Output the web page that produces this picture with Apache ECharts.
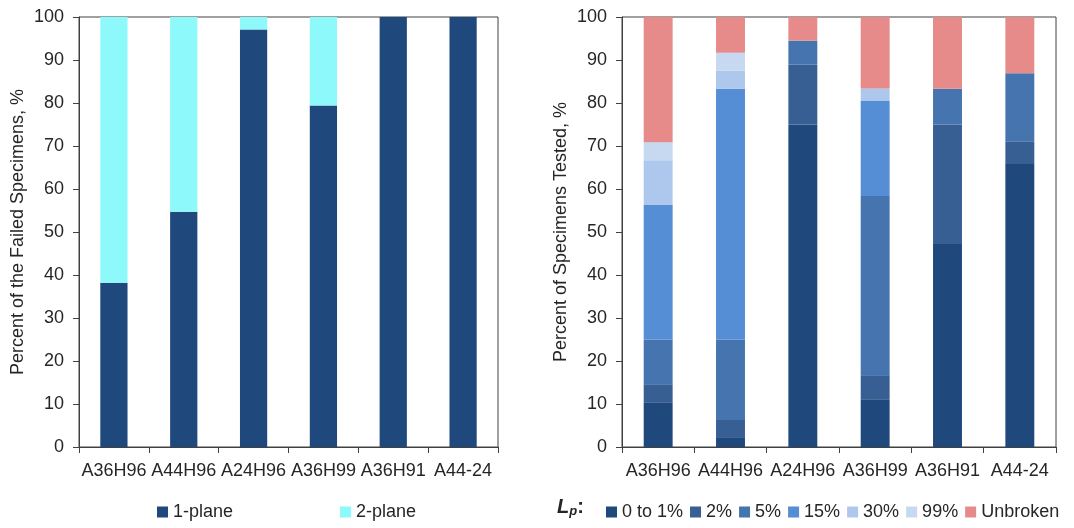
<!DOCTYPE html>
<html>
<head>
<meta charset="utf-8">
<script src="https://cdn.jsdelivr.net/npm/echarts@6/dist/echarts.min.js"></script>
<style>
html,body{margin:0;padding:0;background:#fff;}
#chart{width:1074px;height:528px;}
</style>
</head>
<body>
<div id="chart"></div>
<script>
var categories = ['A36H96', 'A44H96', 'A24H96', 'A36H99', 'A36H91', 'A44-24'];
var yTicks = [0, 10, 20, 30, 40, 50, 60, 70, 80, 90, 100];

// Left chart: failure plane
var onePlane = [38.2, 54.7, 97.1, 79.4, 100, 100];
var twoPlane = [61.8, 45.3, 2.9, 20.6, 0, 0];

// Right chart: Lp distribution
var lp0to1 = [10.4, 2.1, 75.0, 11.1, 47.2, 65.8];
var lp2 = [4.2, 4.2, 13.9, 5.6, 27.8, 5.3];
var lp5 = [10.4, 18.7, 5.6, 41.7, 8.3, 15.8];
var lp15 = [31.3, 58.3, 0, 22.2, 0, 0];
var lp30 = [10.4, 4.2, 0, 2.8, 0, 0];
var lp99 = [4.2, 4.2, 0, 0, 0, 0];
var unbroken = [29.1, 8.3, 5.5, 16.6, 16.7, 13.1];

var leftNames = ['1-plane', '2-plane'];
var rightNames = ['0 to 1%', '2%', '5%', '15%', '30%', '99%', 'Unbroken'];

var FONT = 'Liberation Sans, Arial, sans-serif';
var TXT = '#262626';
var AX = '#404040';

function xAxis(gi) {
  return {
    type: 'category', gridIndex: gi, data: categories,
    axisLine: {lineStyle: {color: AX, width: 1}},
    axisTick: {show: true, length: 6, lineStyle: {color: AX}},
    axisLabel: {interval: 0, color: TXT, fontFamily: FONT, fontSize: 18, margin: 15}
  };
}
function yAxis(gi, name, gap) {
  return {
    type: 'value', gridIndex: gi, min: 0, max: 100, interval: 10,
    name: name, nameLocation: 'middle', nameGap: gap,
    nameTextStyle: {color: TXT, fontFamily: FONT, fontSize: 18},
    axisLine: {show: true, lineStyle: {color: AX, width: 1}},
    axisTick: {show: true, length: 6, lineStyle: {color: AX}},
    axisLabel: {color: TXT, fontFamily: FONT, fontSize: 18, margin: 15},
    splitLine: {show: false}
  };
}
function bar(name, data, color, gi, w) {
  return {
    name: name, type: 'bar', stack: 's' + gi, data: data,
    xAxisIndex: gi, yAxisIndex: gi, barWidth: w,
    itemStyle: {color: color}, emphasis: {disabled: true}
  };
}

var leftColors = ['#1f497d', '#8ef9fa'];
var rightColors = ['#1f497d', '#375f93', '#4674ae', '#558ed5', '#adc8ec', '#c6d9f1', '#e68a8a'];
var rightData = [lp0to1, lp2, lp5, lp15, lp30, lp99, unbroken];

var series = [
  bar(leftNames[0], onePlane, leftColors[0], 0, '39%'),
  bar(leftNames[1], twoPlane, leftColors[1], 0, '39%')
];
for (var i = 0; i < rightNames.length; i++) {
  series.push(bar(rightNames[i], rightData[i], rightColors[i], 1, '40%'));
}

var chart = echarts.init(document.getElementById('chart'), null, {renderer: 'canvas'});
chart.setOption({
  animation: false,
  backgroundColor: '#fff',
  grid: [
    {left: 79, right: 576, top: 17, bottom: 81, show: true, borderColor: AX, borderWidth: 1, backgroundColor: 'transparent'},
    {left: 622, right: 18, top: 17, bottom: 81, show: true, borderColor: AX, borderWidth: 1, backgroundColor: 'transparent'}
  ],
  xAxis: [xAxis(0), xAxis(1)],
  yAxis: [yAxis(0, 'Percent of the Failed Specimens, %', 52), yAxis(1, 'Percent of Specimens Tested, %', 52)],
  legend: [
    {data: leftNames, left: 152, top: 498, itemWidth: 11, itemHeight: 11, itemGap: 107, icon: 'rect',
     textStyle: {color: TXT, fontFamily: FONT, fontSize: 18}},
    {data: rightNames, left: 601, top: 498, itemWidth: 11, itemHeight: 11, itemGap: 7, icon: 'rect',
     textStyle: {color: TXT, fontFamily: FONT, fontSize: 18}}
  ],
  graphic: [{
    type: 'text', left: 557, top: 497,
    style: {
      text: '{l|L}{p|p}{c|:}',
      rich: {
        l: {fontFamily: FONT, fontSize: 20, fontStyle: 'italic', fontWeight: 'bold', fill: TXT},
        p: {fontFamily: FONT, fontSize: 13, fontStyle: 'italic', fontWeight: 'bold', fill: TXT, padding: [8, 0, 0, 0]},
        c: {fontFamily: FONT, fontSize: 20, fontWeight: 'bold', fill: TXT}
      }
    }
  }],
  series: series
});
</script>
</body>
</html>
